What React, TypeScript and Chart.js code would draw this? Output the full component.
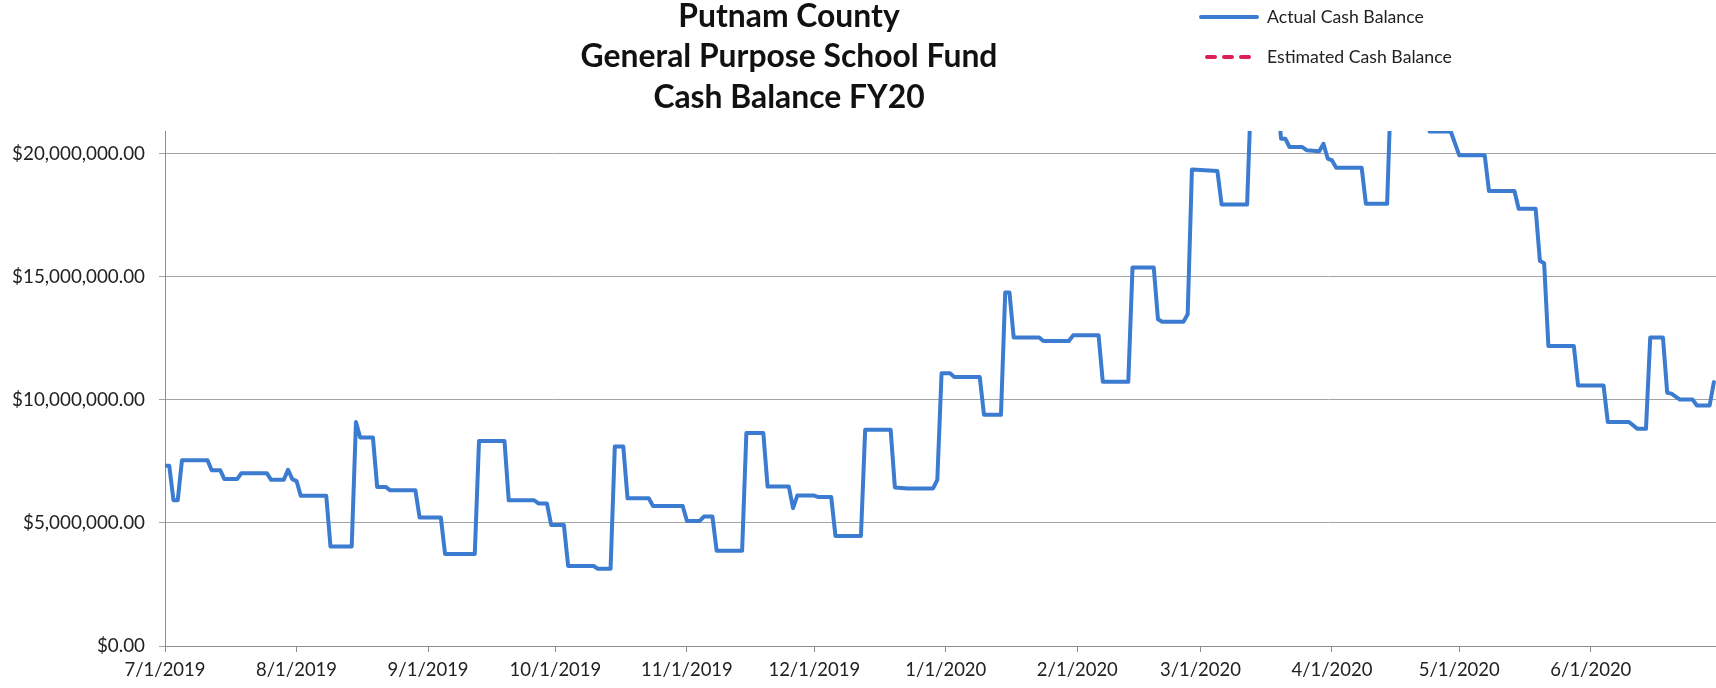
import React, { useEffect, useRef } from "react";
import { Chart, registerables } from "chart.js";

Chart.register(...registerables);

// ---- Data ----
const titleLines = ["Putnam County", "General Purpose School Fund", "Cash Balance FY20"];
const seriesNames = ["Actual Cash Balance", "Estimated Cash Balance"];
const fiscalStart = "7/1/2019";
const monthTicks = [
  "7/1/2019", "8/1/2019", "9/1/2019", "10/1/2019", "11/1/2019", "12/1/2019",
  "1/1/2020", "2/1/2020", "3/1/2020", "4/1/2020", "5/1/2020", "6/1/2020",
];
const yTicks = [0, 5000000, 10000000, 15000000, 20000000];

const actualDates = [
  "7/1/2019", "7/2/2019", "7/3/2019", "7/4/2019", "7/5/2019", "7/11/2019", "7/12/2019", "7/14/2019",
  "7/15/2019", "7/18/2019", "7/19/2019", "7/25/2019", "7/26/2019", "7/29/2019", "7/30/2019", "7/31/2019",
  "8/1/2019", "8/2/2019", "8/8/2019", "8/9/2019", "8/14/2019", "8/15/2019", "8/16/2019", "8/19/2019",
  "8/20/2019", "8/22/2019", "8/23/2019", "8/29/2019", "8/30/2019", "9/4/2019", "9/5/2019", "9/12/2019",
  "9/13/2019", "9/19/2019", "9/20/2019", "9/26/2019", "9/27/2019", "9/29/2019", "9/30/2019", "10/3/2019",
  "10/4/2019", "10/10/2019", "10/11/2019", "10/14/2019", "10/15/2019", "10/17/2019", "10/18/2019", "10/23/2019",
  "10/24/2019", "10/31/2019", "11/1/2019", "11/4/2019", "11/5/2019", "11/7/2019", "11/8/2019", "11/14/2019",
  "11/15/2019", "11/19/2019", "11/20/2019", "11/25/2019", "11/26/2019", "11/27/2019", "12/1/2019", "12/2/2019",
  "12/5/2019", "12/6/2019", "12/12/2019", "12/13/2019", "12/19/2019", "12/20/2019", "12/23/2019", "12/29/2019",
  "12/30/2019", "12/31/2019", "1/2/2020", "1/3/2020", "1/9/2020", "1/10/2020", "1/14/2020", "1/15/2020",
  "1/16/2020", "1/17/2020", "1/23/2020", "1/24/2020", "1/30/2020", "1/31/2020", "2/6/2020", "2/7/2020",
  "2/13/2020", "2/14/2020", "2/19/2020", "2/20/2020", "2/21/2020", "2/26/2020", "2/27/2020", "2/28/2020",
  "3/5/2020", "3/6/2020", "3/12/2020", "3/13/2020", "3/19/2020", "3/20/2020", "3/21/2020", "3/22/2020",
  "3/25/2020", "3/26/2020", "3/29/2020", "3/30/2020", "3/31/2020", "4/1/2020", "4/2/2020", "4/8/2020",
  "4/9/2020", "4/14/2020", "4/15/2020", "4/23/2020", "4/24/2020", "4/29/2020", "5/1/2020", "5/7/2020",
  "5/8/2020", "5/14/2020", "5/15/2020", "5/19/2020", "5/20/2020", "5/21/2020", "5/22/2020", "5/28/2020",
  "5/29/2020", "6/4/2020", "6/5/2020", "6/10/2020", "6/12/2020", "6/14/2020", "6/15/2020", "6/18/2020",
  "6/19/2020", "6/20/2020", "6/22/2020", "6/25/2020", "6/26/2020", "6/29/2020", "6/30/2020",
];

const actualValues = [
  7320000, 7320000, 5920000, 5920000, 7550000, 7550000, 7140000, 7140000,
  6780000, 6780000, 7020000, 7020000, 6750000, 6750000, 7160000, 6780000,
  6700000, 6100000, 6100000, 4040000, 4040000, 9100000, 8470000, 8470000,
  6460000, 6460000, 6330000, 6330000, 5220000, 5220000, 3740000, 3740000,
  8330000, 8330000, 5920000, 5920000, 5790000, 5790000, 4920000, 4920000,
  3250000, 3250000, 3140000, 3140000, 8100000, 8100000, 6000000, 6000000,
  5690000, 5690000, 5080000, 5080000, 5260000, 5260000, 3870000, 3870000,
  8650000, 8650000, 6480000, 6480000, 5600000, 6110000, 6110000, 6050000,
  6050000, 4470000, 4470000, 8780000, 8780000, 6440000, 6400000, 6400000,
  6750000, 11080000, 11080000, 10930000, 10930000, 9390000, 9390000, 14360000,
  14360000, 12530000, 12530000, 12390000, 12390000, 12620000, 12620000, 10730000,
  10730000, 15380000, 15380000, 13270000, 13170000, 13170000, 13480000, 19360000,
  19300000, 17930000, 17930000, 22800000, 22600000, 20610000, 20610000, 20270000,
  20270000, 20140000, 20100000, 20400000, 19800000, 19730000, 19430000, 19430000,
  17960000, 17960000, 23200000, 22400000, 20900000, 20900000, 19930000, 19930000,
  18480000, 18480000, 17760000, 17760000, 15650000, 15550000, 12190000, 12190000,
  10580000, 10580000, 9100000, 9100000, 8820000, 8820000, 12530000, 12530000,
  10290000, 10250000, 10010000, 10010000, 9770000, 9770000, 10720000,
];

const estimatedValues: number[] = [];

// ---- helpers ----
function dayOf(s: string): number {
  const [m, d, y] = s.split("/").map(Number);
  const [m0, d0, y0] = fiscalStart.split("/").map(Number);
  return Math.round((Date.UTC(y, m - 1, d) - Date.UTC(y0, m0 - 1, d0)) / 86400000);
}

const FONT = "Lato, 'Noto Sans', sans-serif";

function fitSize(text: string, targetWidth: number, weight: string): number {
  const c = document.createElement("canvas").getContext("2d")!;
  c.font = `${weight} 100px ${FONT}`;
  const w = c.measureText(text).width;
  return (100 * targetWidth) / w;
}

const BLUE = "#3b7bd0";
const RED = "#dc1f55";

export default function App() {
  const ref = useRef<HTMLCanvasElement | null>(null);

  useEffect(() => {
    document.body.style.margin = "0";
    const canvas = ref.current!;
    const yTickSize = fitSize("$20,000,000.00", 133, "normal");
    const xTickSize = fitSize("7/1/2019", 81, "normal");
    const titleSize = fitSize(titleLines[1], 417, "bold");
    const legendSize = fitSize(seriesNames[1], 185, "normal");

    const tickDays = monthTicks.map(dayOf);
    const labelByDay: Record<number, string> = {};
    monthTicks.forEach((t, i) => (labelByDay[tickDays[i]] = t));

    const header = {
      id: "header",
      afterDraw(chart: any) {
        const ctx = chart.ctx;
        ctx.save();
        ctx.fillStyle = "#111";
        ctx.textAlign = "center";
        ctx.textBaseline = "middle";
        ctx.font = `bold ${titleSize}px ${FONT}`;
        const ys = [17, 57, 98];
        titleLines.forEach((t, i) => ctx.fillText(t, 789, ys[i]));
        // legend
        const ly = [17, 57];
        const seg = [[1201, 1257], [1207, 1250]];
        chart.data.datasets.forEach((ds: any, i: number) => {
          ctx.beginPath();
          ctx.strokeStyle = ds.borderColor;
          ctx.lineWidth = 4;
          ctx.lineCap = "round";
          ctx.setLineDash(ds.borderDash ? [8, 9] : []);
          ctx.moveTo(seg[i][0], ly[i]);
          ctx.lineTo(seg[i][1], ly[i]);
          ctx.stroke();
          ctx.setLineDash([]);
          ctx.fillStyle = "#222";
          ctx.textAlign = "left";
          ctx.font = `${legendSize}px ${FONT}`;
          ctx.fillText(ds.label, 1267, ly[i]);
        });
        ctx.restore();
      },
    };

    const chart = new Chart(canvas, {
      type: "line",
      data: {
        datasets: [
          {
            label: seriesNames[0],
            data: actualDates.map((d, i) => ({ x: dayOf(d), y: actualValues[i] })),
            borderColor: BLUE,
            borderWidth: 4,
            pointRadius: 0,
            tension: 0,
            borderJoinStyle: "round",
            borderCapStyle: "round",
            clip: 0,
          },
          {
            label: seriesNames[1],
            data: estimatedValues,
            borderColor: RED,
            borderWidth: 4,
            borderDash: [10, 5],
            pointRadius: 0,
            clip: 0,
          },
        ],
      },
      options: {
        animation: false,
        responsive: false,
        layout: { padding: { top: 131, right: 0, left: 0, bottom: 0 } },
        plugins: { legend: { display: false }, title: { display: false }, tooltip: { enabled: false } },
        scales: {
          x: {
            type: "linear",
            min: 0,
            max: 365.5,
            afterFit: (s: any) => { s.height = 42; },
            afterBuildTicks: (s: any) => { s.ticks = tickDays.map((v) => ({ value: v })); },
            grid: { drawOnChartArea: false, drawTicks: true, tickLength: 6, color: "#8c8c8c", lineWidth: 1 },
            border: { display: true, color: "#8c8c8c", width: 1 },
            ticks: {
              autoSkip: false,
              maxRotation: 0,
              padding: 7,
              color: "#222",
              font: { family: FONT, size: xTickSize },
              callback: (v: any) => labelByDay[v] ?? "",
            },
          },
          y: {
            type: "linear",
            min: 0,
            max: 20920000,
            afterFit: (s: any) => { s.width = 165; },
            afterBuildTicks: (s: any) => { s.ticks = yTicks.map((v) => ({ value: v })); },
            grid: { color: "#a3a3a3", lineWidth: 1, drawTicks: true, tickLength: 6 },
            border: { display: true, color: "#8c8c8c", width: 1 },
            ticks: {
              padding: 14,
              color: "#222",
              font: { family: FONT, size: yTickSize },
              callback: (v: any) =>
                "$" + Number(v).toLocaleString("en-US", { minimumFractionDigits: 2, maximumFractionDigits: 2 }),
            },
          },
        },
      },
      plugins: [header],
    } as any);
    return () => chart.destroy();
  }, []);

  return <canvas ref={ref} width={1716} height={688} style={{ display: "block" }} />;
}
